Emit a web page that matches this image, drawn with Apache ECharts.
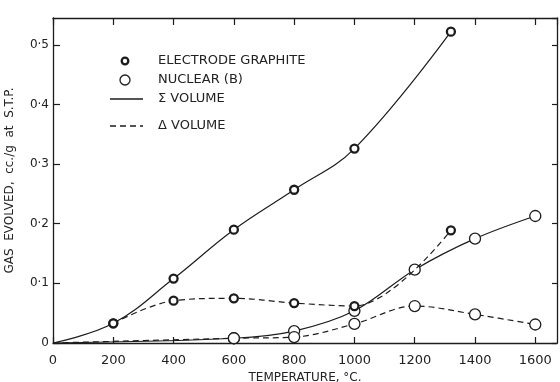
<!DOCTYPE html>
<html>
<head>
<meta charset="utf-8">
<script src="https://cdn.jsdelivr.net/npm/echarts@6/dist/echarts.min.js"></script>
<style>
html,body{margin:0;padding:0;background:#fff;}
#c{width:560px;height:382px;}
</style>
</head>
<body>
<div id="c"></div>
<script>
// ---- data ----
const xTickValues = [0, 200, 400, 600, 800, 1000, 1200, 1400, 1600];
const xTickLabels = ['0', '200', '400', '600', '800', '1000', '1200', '1400', '1600'];
const yTickLabels = ['0', '0·1', '0·2', '0·3', '0·4', '0·5'];

// Electrode graphite (ringed dot markers); origin has no marker
const electrodeTotalTemps = [0, 200, 400, 600, 800, 1000, 1320];
const electrodeTotal      = [0, 0.033, 0.108, 0.190, 0.257, 0.326, 0.522];
const electrodeDeltaTemps = [200, 400, 600, 800, 1000, 1320];
const electrodeDelta      = [0.033, 0.071, 0.075, 0.067, 0.062, 0.189];

// Nuclear (B) (open circles); origin has no marker
const nuclearTemps  = [0, 600, 800, 1000, 1200, 1400, 1600];
const nuclearTotal  = [0, 0.008, 0.020, 0.054, 0.123, 0.175, 0.213];
const nuclearDelta  = [0, 0.008, 0.010, 0.032, 0.062, 0.048, 0.031];

const legendLabels = ['ELECTRODE GRAPHITE', 'NUCLEAR (B)', 'Σ VOLUME', 'Δ VOLUME'];

// ---- build ----
const INK = '#1c1c1c';
const FONT = 'DejaVu Sans';

function pts(xs, ys) {
  return xs.map((x, i) => (x === 0 && ys[i] === 0)
    ? { value: [x, ys[i]], symbol: 'none' }
    : { value: [x, ys[i]] });
}

const ringStyle = { color: '#fff', borderColor: INK, borderWidth: 2.3 };
const openStyle = { color: '#fff', borderColor: INK, borderWidth: 1.3 };

function line(name, data, dashed, symbolSize, itemStyle, z, smooth) {
  return {
    name, type: 'line', data, smooth: smooth,
    symbol: 'circle', symbolSize, itemStyle, z,
    lineStyle: { color: INK, width: 1.2, type: dashed ? [6, 4] : 'solid' },
    showSymbol: true, animation: false
  };
}

const chart = echarts.init(document.getElementById('c'), null, { renderer: 'canvas' });

const xLabelFmt = v => {
  const i = xTickValues.indexOf(v);
  return i >= 0 ? xTickLabels[i] : '';
};
const yLabelFmt = v => {
  const k = Math.round(v * 10);
  return (Math.abs(v * 10 - k) < 1e-6 && k < yTickLabels.length) ? yTickLabels[k] : '';
};

const legendGraphics = [
  { type: 'circle', shape: { cx: 125, cy: 61, r: 3.3 }, style: { fill: '#fff', stroke: INK, lineWidth: 2.3 } },
  { type: 'circle', shape: { cx: 125, cy: 80, r: 5 }, style: { fill: '#fff', stroke: INK, lineWidth: 1.3 } },
  { type: 'line', shape: { x1: 110, y1: 99, x2: 143, y2: 99 }, style: { stroke: INK, lineWidth: 1.3 } },
  { type: 'line', shape: { x1: 110, y1: 126, x2: 143, y2: 126 }, style: { stroke: INK, lineWidth: 1.3, lineDash: [6, 4] } }
];
[61, 80, 99, 126].forEach((y, i) => {
  legendGraphics.push({
    type: 'text', left: 158, top: y - 7,
    style: { text: legendLabels[i], font: '13px "' + FONT + '"', fill: '#222' }
  });
});

const axisLine = { show: true, onZero: false, lineStyle: { color: INK, width: 1.3 } };

chart.setOption({
  backgroundColor: '#fff',
  animation: false,
  grid: { left: 53, right: 3, top: 18, bottom: 39, containLabel: false, outerBoundsMode: 'none' },
  xAxis: [{
    type: 'value', position: 'bottom', min: 0, max: 1672, interval: 200,
    axisLine: axisLine,
    axisTick: { show: true, inside: true, length: 6, lineStyle: { color: INK, width: 1.2 } },
    axisLabel: { formatter: xLabelFmt, margin: 11, fontSize: 13, fontFamily: FONT, color: '#222', showMaxLabel: false },
    splitLine: { show: false },
    name: 'TEMPERATURE, °C.', nameLocation: 'middle', nameGap: 22,
    nameTextStyle: { fontSize: 12, fontFamily: FONT, color: '#222' }
  }, {
    type: 'value', position: 'top', min: 0, max: 1672, interval: 200,
    axisLine: axisLine,
    axisTick: { show: true, inside: true, length: 7, lineStyle: { color: INK, width: 1.2 } },
    axisLabel: { show: false }, splitLine: { show: false }
  }],
  yAxis: [{
    type: 'value', position: 'left', min: 0, max: 0.545, interval: 0.1,
    axisLine: axisLine,
    axisTick: { show: true, inside: true, length: 7, lineStyle: { color: INK, width: 1.2 } },
    axisLabel: { formatter: yLabelFmt, margin: 4, fontSize: 12, fontFamily: FONT, color: '#222', showMaxLabel: false },
    splitLine: { show: false },
    name: 'GAS  EVOLVED,  cc./g  at  S.T.P.', nameLocation: 'middle', nameRotate: 90, nameGap: 37,
    nameTextStyle: { fontSize: 12, fontFamily: FONT, color: '#222' }
  }, {
    type: 'value', position: 'right', min: 0, max: 0.545, interval: 0.1,
    axisLine: axisLine,
    axisTick: { show: true, inside: true, length: 5, lineStyle: { color: INK, width: 1.2 } },
    axisLabel: { show: false }, splitLine: { show: false }
  }],
  series: [
    line('Nuclear Σ', pts(nuclearTemps, nuclearTotal), false, 11, openStyle, 3, 0.35),
    line('Nuclear Δ', pts(nuclearTemps, nuclearDelta), true, 11, openStyle, 3, 0.35),
    line('Electrode Σ', pts(electrodeTotalTemps, electrodeTotal), false, 8, ringStyle, 4, 0.4),
    line('Electrode Δ', pts(electrodeDeltaTemps, electrodeDelta), true, 8, ringStyle, 4, 0.35)
  ],
  graphic: legendGraphics
});
</script>
</body>
</html>
